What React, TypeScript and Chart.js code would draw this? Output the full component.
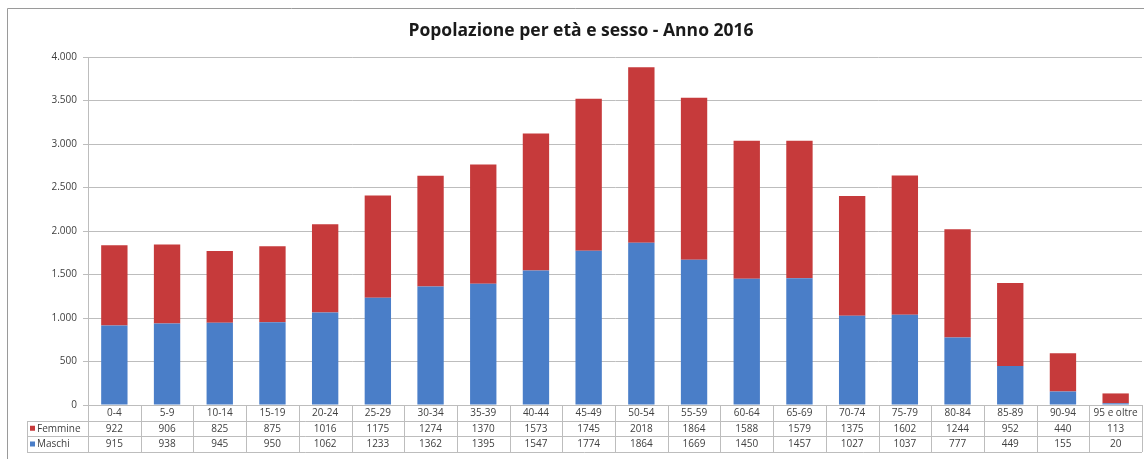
import React, { useEffect, useRef } from "react";
import { Chart, registerables } from "chart.js";

Chart.register(...registerables);

const categories = ["0-4", "5-9", "10-14", "15-19", "20-24", "25-29", "30-34", "35-39", "40-44", "45-49", "50-54", "55-59", "60-64", "65-69", "70-74", "75-79", "80-84", "85-89", "90-94", "95 e oltre"];
const femmine = [922, 906, 825, 875, 1016, 1175, 1274, 1370, 1573, 1745, 2018, 1864, 1588, 1579, 1375, 1602, 1244, 952, 440, 113];
const maschi = [915, 938, 945, 950, 1062, 1233, 1362, 1395, 1547, 1774, 1864, 1669, 1450, 1457, 1027, 1037, 777, 449, 155, 20];
const titleText = "Popolazione per età e sesso - Anno 2016";

const BLUE = "#4a7ec8";
const RED = "#c63a3b";
const GRID = "#bdbdbd";
const TEXT = "#404040";
const FONT = "'Open Sans', 'Noto Sans', sans-serif";

function fmt(v: number): string {
  const s = Math.round(v).toString();
  return s.replace(/\B(?=(\d{3})+(?!\d))/g, ".");
}

const decorPlugin = {
  id: "decor",
  beforeDraw(chart: any) {
    const ctx = chart.ctx;
    ctx.save();
    ctx.fillStyle = "#ffffff";
    ctx.fillRect(0, 0, chart.width, chart.height);
    ctx.strokeStyle = "#9a9a9a";
    ctx.lineWidth = 1;
    ctx.beginPath();
    ctx.moveTo(7.5, chart.height);
    ctx.lineTo(7.5, 8.5);
    ctx.lineTo(chart.width, 8.5);
    ctx.stroke();
    ctx.restore();
  },
  afterDraw(chart: any) {
    const ctx = chart.ctx;
    const area = chart.chartArea;
    const n = categories.length;
    const w = (area.right - area.left) / n;
    const rows = [area.bottom, area.bottom + 15.5, area.bottom + 31, area.bottom + 47];
    const labelLeft = 27;
    ctx.save();
    // title
    ctx.fillStyle = "#1a1a1a";
    ctx.font = "bold 17.5px " + FONT;
    ctx.textAlign = "center";
    ctx.textBaseline = "middle";
    ctx.fillText(titleText, 581, 31);

    // table borders
    ctx.strokeStyle = GRID;
    ctx.lineWidth = 1;
    ctx.beginPath();
    ctx.moveTo(area.left, Math.round(rows[0]) + 0.5);
    ctx.lineTo(area.right, Math.round(rows[0]) + 0.5);
    for (let r = 1; r < rows.length; r++) {
      ctx.moveTo(labelLeft, Math.round(rows[r]) + 0.5);
      ctx.lineTo(area.right, Math.round(rows[r]) + 0.5);
    }
    for (let i = 0; i <= n; i++) {
      const x = Math.round(area.left + i * w) + 0.5;
      ctx.moveTo(x, rows[0]);
      ctx.lineTo(x, rows[3]);
    }
    ctx.moveTo(labelLeft + 0.5, Math.round(rows[1]));
    ctx.lineTo(labelLeft + 0.5, Math.round(rows[3]));
    ctx.stroke();

    // texts
    ctx.fillStyle = TEXT;
    ctx.font = "10px " + FONT;
    ctx.textAlign = "center";
    ctx.textBaseline = "middle";
    const xs = chart.scales.x;
    for (let i = 0; i < n; i++) {
      const cx = xs.getPixelForValue(i);
      ctx.fillText(categories[i], cx, (rows[0] + rows[1]) / 2 + 0.5);
      ctx.fillText(String(femmine[i]), cx, (rows[1] + rows[2]) / 2 + 0.5);
      ctx.fillText(String(maschi[i]), cx, (rows[2] + rows[3]) / 2 + 0.5);
    }
    // legend keys
    const ds = chart.data.datasets;
    const rowFor = [(rows[1] + rows[2]) / 2, (rows[2] + rows[3]) / 2];
    const order = [1, 0];
    for (let k = 0; k < 2; k++) {
      const d = ds[order[k]];
      const y = rowFor[k];
      ctx.fillStyle = d.backgroundColor;
      ctx.fillRect(30, y - 2.5, 5, 5);
      ctx.fillStyle = TEXT;
      ctx.textAlign = "left";
      ctx.fillText(d.label, 37, y + 0.5);
    }
    ctx.restore();
  },
};

export default function App() {
  const ref = useRef<HTMLCanvasElement | null>(null);
  useEffect(() => {
    if (!ref.current) return;
    const chart = new Chart(ref.current, {
      type: "bar",
      data: {
        labels: categories,
        datasets: [
          { label: "Maschi", data: maschi, backgroundColor: BLUE, barPercentage: 0.5, categoryPercentage: 1 },
          { label: "Femmine", data: femmine, backgroundColor: RED, barPercentage: 0.5, categoryPercentage: 1 },
        ],
      },
      options: {
        animation: false,
        responsive: true,
        maintainAspectRatio: false,
        layout: { padding: { left: 0, right: 2, top: 57, bottom: 54 } },
        plugins: { legend: { display: false }, title: { display: false }, tooltip: { enabled: false } },
        scales: {
          x: { stacked: true, display: false },
          y: {
            stacked: true,
            min: 0,
            max: 4000,
            afterFit: (s: any) => { s.width = 88; },
            ticks: {
              stepSize: 500,
              padding: 6,
              color: TEXT,
              font: { family: FONT, size: 10 },
              callback: (v: any) => fmt(Number(v)),
            },
            grid: { color: GRID, tickLength: 5, drawTicks: true },
            border: { display: true, color: GRID },
          },
        },
      },
      plugins: [decorPlugin],
    });
    return () => chart.destroy();
  }, []);
  return (
    <div style={{ position: "fixed", left: 0, top: 0, width: 1144, height: 459, background: "#fff" }}>
      <canvas ref={ref} />
    </div>
  );
}
